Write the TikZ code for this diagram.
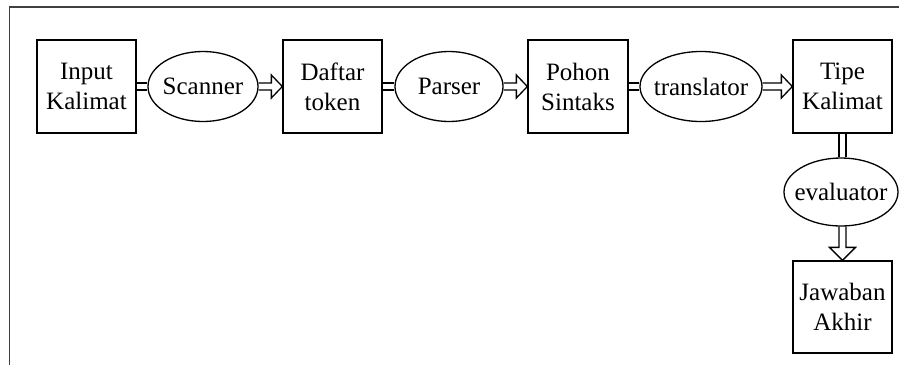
\documentclass[tikz,border=0pt]{standalone}
\usepackage{fontspec}
\setmainfont{Liberation Serif}
\usetikzlibrary{calc,shapes.geometric}
\newcommand\blkarrowh[2]{%
  \draw let \p1=(#1.east), \p2=(#2.west) in
    (\x1,\y1+3.5pt) -- (\x2-11pt,\y1+3.5pt) -- (\x2-11pt,\y1+11.5pt) -- (\x2,\y1)
    -- (\x2-11pt,\y1-11.5pt) -- (\x2-11pt,\y1-3.5pt) -- (\x1,\y1-3.5pt);}
\newcommand\blkarrowv[2]{%
  \draw let \p1=(#1.south), \p2=(#2.north) in
    (\x2-3.5pt,\y1) -- (\x2-3.5pt,\y2+13pt) -- (\x2-13pt,\y2+13pt) -- (\x2,\y2)
    -- (\x2+13pt,\y2+13pt) -- (\x2+3.5pt,\y2+13pt) -- (\x2+3.5pt,\y1);}
\begin{document}
\begin{tikzpicture}[x=1pt,y=-1pt,line width=1.3pt,
  lbl/.style={font=\fontsize{25}{30}\selectfont},
  box/.style={lbl,draw,minimum width=99pt,minimum height=93pt,align=center,inner sep=0pt},
  proc/.style={lbl,draw,ellipse,minimum height=70pt,inner xsep=-15pt,inner ysep=0pt},
  link/.style={double,double distance=5.5pt}]
\useasboundingbox (0,0) rectangle (899,365);
\draw[line width=1.6pt,black!75] (9.5,365) -- (9.5,7) -- (899,7);
\node[box] (input) at (86.5,86.5) {Input\\Kalimat};
\node[proc,minimum width=110pt] (scan) at (203,86.5) {Scanner};
\node[box] (daftar) at (332.5,86.5) {Daftar\\token};
\node[proc,minimum width=108pt] (parse) at (449,86.5) {Parser};
\node[box,minimum width=100pt] (pohon) at (578,86.5) {Pohon\\Sintaks};
\node[proc,minimum width=122pt] (trans) at (701,86.5) {translator};
\node[box] (tipe) at (842.5,86.5) {Tipe\\Kalimat};
\node[proc,minimum width=114pt,minimum height=68pt] (eval) at (841,192) {evaluator};
\node[box,minimum height=92pt] (jawab) at (842.5,307) {Jawaban\\Akhir};
\draw[link] (input.east) -- (scan.west);
\blkarrowh{scan}{daftar}
\draw[link] (daftar.east) -- (parse.west);
\blkarrowh{parse}{pohon}
\draw[link] (pohon.east) -- (trans.west);
\blkarrowh{trans}{tipe}
\draw[link] (tipe.south) -- (tipe.south |- eval.north);
\blkarrowv{eval}{jawab}
\end{tikzpicture}
\end{document}
